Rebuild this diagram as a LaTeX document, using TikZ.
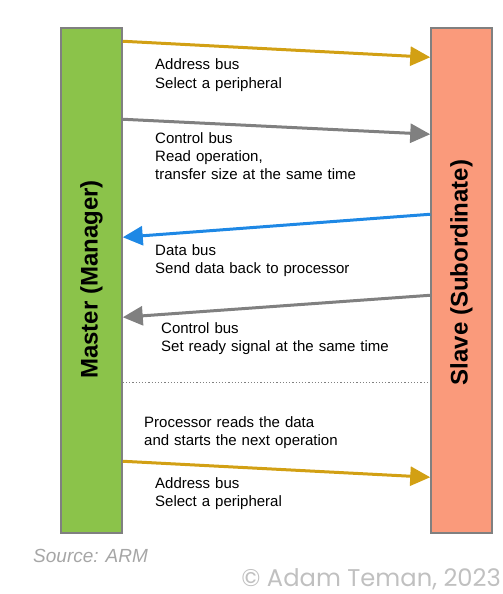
\documentclass[tikz,border=0pt]{standalone}
\usepackage{fontspec}
\setmainfont{Liberation Sans}
\newfontfamily\copyfont{Poppins}
\usetikzlibrary{arrows.meta}
\definecolor{mgreen}{RGB}{139,195,74}
\definecolor{sorange}{RGB}{250,154,123}
\definecolor{boxline}{RGB}{128,128,128}
\definecolor{addrgold}{RGB}{210,160,20}
\definecolor{ctrlgray}{RGB}{128,128,128}
\definecolor{datablue}{RGB}{30,136,229}
\definecolor{srcgray}{RGB}{166,166,166}
\definecolor{cpgray}{RGB}{192,192,192}
\tikzset{
  unit/.style={draw=boxline, line width=1.5pt, minimum width=61pt, minimum height=505pt, inner sep=0pt},
  unitlabel/.style={rotate=90, font=\fontsize{24}{28}\selectfont\bfseries},
  bus/.style={line width=3pt, -{Triangle[length=20pt,width=19pt]}},
  lbl/.style={anchor=base west, inner sep=0pt, text width=300pt, align=left, font=\fontsize{15}{18.3}\selectfont}
}
\begin{document}
\begin{tikzpicture}[x=1pt,y=-1pt]
\useasboundingbox (0,0) rectangle (503,594);
\node[unit, fill=mgreen] (master) at (91.5,280.5) {};
\node[unit, fill=sorange] (slave) at (461.5,280.5) {};
\node[unitlabel] (mlabel) at ([yshift=1pt]master.center) {Master (Manager)};
\node[unitlabel] (slabel) at ([yshift=8pt]slave.center) {Slave (Subordinate)};
% anchor points on the boxes
\coordinate (m1) at ([yshift=-14pt]master.north east);
\coordinate (s1) at ([yshift=-30pt]slave.north west);
\coordinate (m2) at ([yshift=-92pt]master.north east);
\coordinate (s2) at ([yshift=-107pt]slave.north west);
\coordinate (s3) at ([yshift=-187pt]slave.north west);
\coordinate (m3) at ([yshift=-210pt]master.north east);
\coordinate (s4) at ([yshift=-268pt]slave.north west);
\coordinate (m4) at ([yshift=-290pt]master.north east);
\coordinate (md) at ([yshift=-355pt]master.north east);
\coordinate (sd) at ([yshift=-355pt]slave.north west);
\coordinate (m5) at ([yshift=-434pt]master.north east);
\coordinate (s5) at ([yshift=-450pt]slave.north west);
% buses
\draw[bus, addrgold] (m1) -- (s1);
\draw[bus, ctrlgray] (m2) -- (s2);
\draw[bus, datablue] (s3) -- (m3);
\draw[bus, ctrlgray] (s4) -- (m4);
\draw[boxline, dotted, line width=1.2pt] (md) -- (sd);
\draw[bus, addrgold] (m5) -- (s5);
% labels
\node[lbl] (t1) at (155,70) {Address bus\\Select a peripheral};
\node[lbl] (t2) at (155,143) {Control bus\\Read operation,\\transfer size at the same time};
\node[lbl] (t3) at (155,255) {Data bus\\Send data back to processor};
\node[lbl] (t4) at (161,333) {Control bus\\Set ready signal at the same time};
\node[lbl] (t5) at (144,427) {Processor reads the data\\and starts the next operation};
\node[lbl] (t6) at (155,488) {Address bus\\Select a peripheral};
\node[anchor=base west, inner sep=0pt, text=srcgray, font=\fontsize{19}{22}\selectfont\itshape] (src) at (33,562) {Source: ARM};
\node[anchor=base east, inner sep=0pt, text=cpgray, font=\fontsize{24.2}{28}\selectfont\copyfont] (cp) at (501,586) {© Adam Teman, 2023};
\end{tikzpicture}
\end{document}
